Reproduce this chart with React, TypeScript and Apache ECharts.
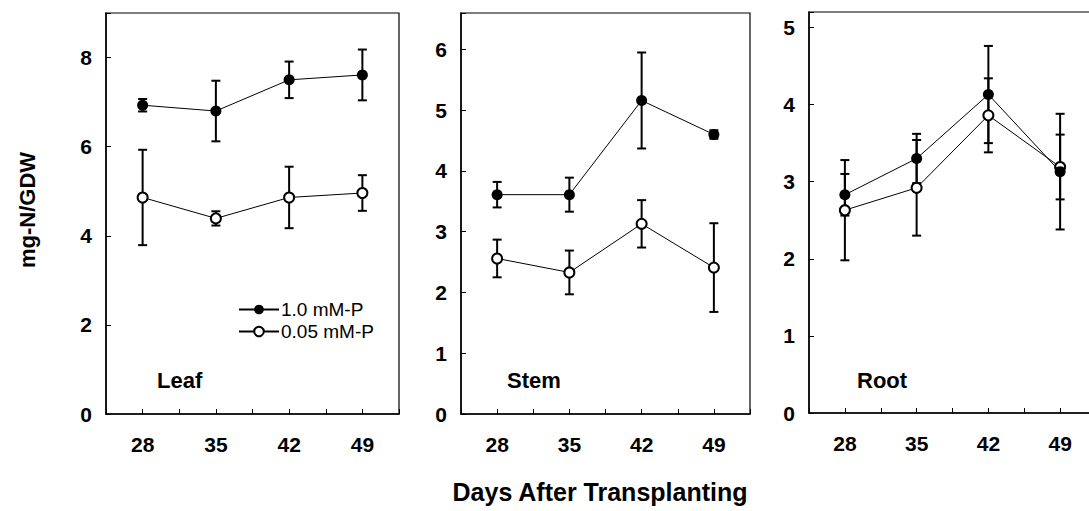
import React, { useEffect, useRef } from 'react';
import * as echarts from 'echarts';

const days = [28, 35, 42, 49];
const panelNames = ['Leaf', 'Stem', 'Root'];
const seriesNames = ['1.0 mM-P', '0.05 mM-P'];

const leafHigh = [6.93, 6.8, 7.5, 7.61];
const leafHighErr = [0.14, 0.68, 0.41, 0.57];
const leafLow = [4.86, 4.39, 4.86, 4.96];
const leafLowErr = [1.07, 0.16, 0.69, 0.4];

const stemHigh = [3.61, 3.61, 5.16, 4.6];
const stemHighErr = [0.21, 0.28, 0.79, 0.07];
const stemLow = [2.56, 2.33, 3.13, 2.41];
const stemLowErr = [0.31, 0.36, 0.39, 0.73];

const rootHigh = [2.83, 3.3, 4.13, 3.13];
const rootHighErr = [0.27, 0.32, 0.63, 0.75];
const rootLow = [2.63, 2.92, 3.86, 3.19];
const rootLowErr = [0.65, 0.62, 0.48, 0.42];

const yMaxes = [9, 6.6, 5.2];
const yIntervals = [2, 1, 1];

const FONT = '"Liberation Sans", Arial, sans-serif';

export default function App() {
  const ref = useRef<HTMLDivElement>(null);
  useEffect(() => {
    const chart = echarts.init(ref.current!, null, { renderer: 'svg' });
    const highs = [leafHigh, stemHigh, rootHigh];
    const highErrs = [leafHighErr, stemHighErr, rootHighErr];
    const lows = [leafLow, stemLow, rootLow];
    const lowErrs = [leafLowErr, stemLowErr, rootLowErr];
    const grids = [
      { left: 106, top: 13, width: 293, height: 401 },
      { left: 461, top: 13, width: 289, height: 401 },
      { left: 809, top: 12, width: 287, height: 401 },
    ];
    const labelPos = [157, 507, 857];

    const errRender = (params: any, api: any) => {
      const x = api.value(0);
      const lo = api.value(1);
      const hi = api.value(2);
      const pLo = api.coord([x, lo]);
      const pHi = api.coord([x, hi]);
      const hw = 4.5;
      const st = { stroke: '#000', lineWidth: 2 };
      return {
        type: 'group',
        children: [
          { type: 'line', shape: { x1: pLo[0], y1: pLo[1], x2: pHi[0], y2: pHi[1] }, style: st },
          { type: 'line', shape: { x1: pHi[0] - hw, y1: pHi[1], x2: pHi[0] + hw, y2: pHi[1] }, style: st },
          { type: 'line', shape: { x1: pLo[0] - hw, y1: pLo[1], x2: pLo[0] + hw, y2: pLo[1] }, style: st },
        ],
      };
    };

    const series: any[] = [];
    const xAxis: any[] = [];
    const yAxis: any[] = [];
    const grid: any[] = [];
    const graphic: any[] = [];

    for (let i = 0; i < 3; i++) {
      grid.push({
        ...grids[i],
        show: true,
        borderColor: '#000',
        borderWidth: 1.2,
        backgroundColor: 'transparent',
        containLabel: false,
        outerBoundsMode: 'none',
      });
      xAxis.push({
        type: 'value',
        gridIndex: i,
        min: 24.5,
        max: 52.5,
        interval: 3.5,
        axisLine: { show: true, onZero: false, lineStyle: { color: '#000', width: 1.5 } },
        axisTick: { show: true, inside: true, length: 5, lineStyle: { color: '#000', width: 1 } },
        splitLine: { show: false },
        axisLabel: {
          color: '#000',
          fontFamily: FONT,
          fontWeight: 'bold',
          fontSize: 21,
          margin: 20,
          formatter: (v: number) => (days.indexOf(v) >= 0 ? String(v) : ''),
        },
      });
      const iv = yIntervals[i];
      yAxis.push({
        type: 'value',
        gridIndex: i,
        min: 0,
        max: yMaxes[i],
        interval: iv,
        axisLine: { show: true, onZero: false, lineStyle: { color: '#000', width: 1.5 } },
        axisTick: { show: true, inside: true, length: 5, lineStyle: { color: '#000', width: 1 } },
        splitLine: { show: false },
        axisLabel: {
          color: '#000',
          fontFamily: FONT,
          fontWeight: 'bold',
          fontSize: 21,
          margin: 14,
          formatter: (v: number) => (Math.abs(v / iv - Math.round(v / iv)) < 1e-6 ? String(v) : ''),
        },
      });
      const hiErrData = days.map((d, k) => [d, highs[i][k] - highErrs[i][k], highs[i][k] + highErrs[i][k]]);
      const loErrData = days.map((d, k) => [d, lows[i][k] - lowErrs[i][k], lows[i][k] + lowErrs[i][k]]);
      series.push({
        type: 'custom',
        xAxisIndex: i,
        yAxisIndex: i,
        z: 1,
        renderItem: errRender,
        encode: { x: 0, y: [1, 2] },
        data: hiErrData,
      });
      series.push({
        type: 'custom',
        xAxisIndex: i,
        yAxisIndex: i,
        z: 1,
        renderItem: errRender,
        encode: { x: 0, y: [1, 2] },
        data: loErrData,
      });
      series.push({
        name: seriesNames[1],
        type: 'line',
        xAxisIndex: i,
        yAxisIndex: i,
        z: 3,
        symbol: 'circle',
        symbolSize: 10,
        itemStyle: { color: '#fff', borderColor: '#000', borderWidth: 2 },
        lineStyle: { color: '#000', width: 1 },
        data: days.map((d, k) => [d, lows[i][k]]),
      });
      series.push({
        name: seriesNames[0],
        type: 'line',
        xAxisIndex: i,
        yAxisIndex: i,
        z: 4,
        symbol: 'circle',
        symbolSize: 11,
        itemStyle: { color: '#000', borderColor: '#000', borderWidth: 0 },
        lineStyle: { color: '#000', width: 1 },
        data: days.map((d, k) => [d, highs[i][k]]),
      });
      graphic.push({
        type: 'text',
        left: labelPos[i],
        top: 369,
        style: { text: panelNames[i], font: `bold 22px ${FONT}`, fill: '#000' },
      });
    }

    graphic.push({
      type: 'text',
      x: 27,
      y: 210,
      rotation: Math.PI / 2,
      style: { text: 'mg-N/GDW', font: `bold 22px ${FONT}`, fill: '#000', textAlign: 'center', textVerticalAlign: 'middle' },
    });
    graphic.push({
      type: 'text',
      x: 600,
      y: 492,
      style: { text: 'Days After Transplanting', font: `bold 25px ${FONT}`, fill: '#000', textAlign: 'center', textVerticalAlign: 'middle' },
    });

    chart.setOption({
      animation: false,
      backgroundColor: '#fff',
      grid,
      xAxis,
      yAxis,
      series,
      graphic,
      legend: {
        data: seriesNames,
        orient: 'vertical',
        left: 233,
        top: 295,
        itemWidth: 40,
        itemHeight: 12,
        itemGap: 3,
        textStyle: { fontFamily: FONT, fontSize: 19, color: '#000', padding: [0, 0, 0, -3] },
        selectedMode: false,
      },
    });
    return () => chart.dispose();
  }, []);
  return (
    <div
      ref={ref}
      style={{ position: 'fixed', left: 0, top: 0, width: 1089, height: 511, background: '#fff' }}
    />
  );
}
